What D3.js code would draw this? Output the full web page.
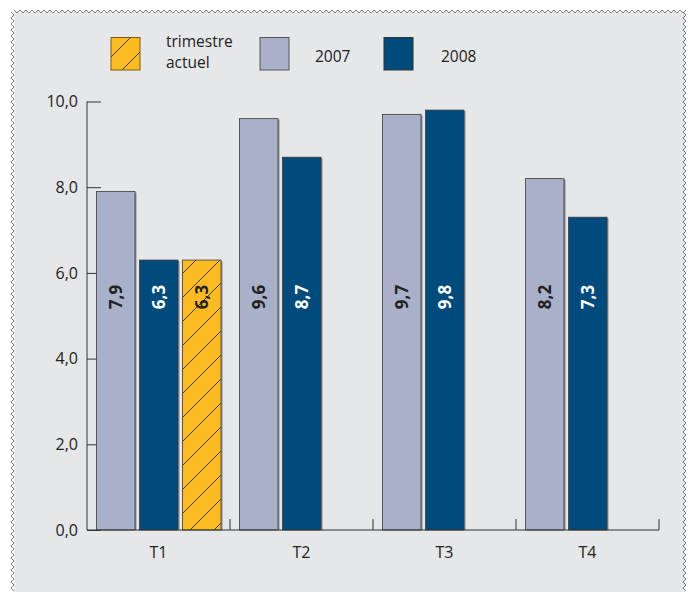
<!DOCTYPE html>
<html><head><meta charset="utf-8">
<script src="https://cdn.jsdelivr.net/npm/d3@7"></script>
<style>body{margin:0;background:#fff}svg{display:block}</style>
</head><body>
<svg id="c" width="696" height="592"></svg>
<script>
const categories = ["T1","T2","T3","T4"];
const values2007 = [7.9, 9.6, 9.7, 8.2];
const values2008 = [6.3, 8.7, 9.8, 7.3];
const currentQuarter = [6.3, null, null, null];
const yTicks = [0, 2, 4, 6, 8, 10];
const legendLabels = [["trimestre","actuel"], ["2007"], ["2008"]];

const svg = d3.select("#c");
const font = "'Open Sans', sans-serif";
const col07 = "#a9b0ca", col08 = "#004a7c", colY = "#fdbb23", bg = "#e6e7e9";

// panel
svg.append("rect").attr("x",14).attr("y",12).attr("width",671).attr("height",590).attr("fill",bg);
// zigzag borders
function zig(x0,y0,x1,y1,horizontal,dir){
  let p = "";
  const amp = 3*dir, per = 6;
  if(horizontal){ for(let x=x0,i=0;x<=x1;x+=per/2,i++){ p += (i?"L":"M")+x+","+(y0+(i%2?amp:0)); } }
  else { for(let y=y0,i=0;y<=y1;y+=per/2,i++){ p += (i?"L":"M")+(x0+(i%2?amp:0))+","+y; } }
  svg.append("path").attr("d",p).attr("fill","none").attr("stroke","#6e6e6e").attr("stroke-width",0.9);
}
zig(14,10,688,10,true,1);
zig(11,12,11,592,false,1);
zig(683,12,683,592,false,1);

const defs = svg.append("defs");
const pat = defs.append("pattern").attr("id","hatch").attr("patternUnits","userSpaceOnUse")
  .attr("width",24).attr("height",24);
pat.append("rect").attr("width",24).attr("height",24).attr("fill",colY);
pat.append("path").attr("d","M-2,26 L26,-2 M-6,6 L6,-6 M18,30 L30,18").attr("stroke","#3a3020").attr("stroke-width",0.9);

const y = d3.scaleLinear().domain([0,10]).range([530,101.5]);
const x0 = d3.scaleBand().domain(categories).range([87,659]).padding(0);
const x1 = d3.scaleBand().domain(["2007","2008","cur"]).range([9.5,134]).paddingInner(0.105).paddingOuter(0);

// axes
const yAxis = d3.axisRight(y).tickValues(yTicks).tickSize(14).tickFormat("");
const gy = svg.append("g").attr("transform","translate(87,0)").call(yAxis);
gy.select(".domain").remove();
gy.selectAll(".tick line").attr("stroke","#333").attr("stroke-width",1);
svg.append("line").attr("x1",87).attr("x2",87).attr("y1",101.5).attr("y2",530).attr("stroke","#333");
svg.append("g").selectAll("text").data(yTicks).join("text")
  .attr("x",78).attr("y",d=>y(d)).attr("dy","0.35em").attr("text-anchor","end")
  .attr("font-family",font).attr("font-size",16).attr("fill","#222")
  .text(d=>d3.format(".1f")(d).replace(".",","));

// bars
const data = [];
categories.forEach((c,i)=>{
  data.push({c, k:"2007", v:values2007[i], fill:col07, tc:"#222"});
  data.push({c, k:"2008", v:values2008[i], fill:col08, tc:"#fff"});
  if(currentQuarter[i]!=null) data.push({c, k:"cur", v:currentQuarter[i], fill:"url(#hatch)", tc:"#222"});
});
const bars = svg.append("g");
bars.selectAll("rect.sh").data(data).join("rect").attr("class","sh")
  .attr("x",d=>x0(d.c)+x1(d.k)+1.5).attr("y",d=>y(d.v)+1).attr("width",x1.bandwidth())
  .attr("height",d=>y(0)-y(d.v)-1).attr("fill","#8a8c92");
bars.selectAll("rect.b").data(data).join("rect").attr("class","b")
  .attr("x",d=>x0(d.c)+x1(d.k)).attr("y",d=>y(d.v)).attr("width",x1.bandwidth())
  .attr("height",d=>y(0)-y(d.v)).attr("fill",d=>d.fill).attr("stroke","#3c3c3c").attr("stroke-width",0.8);
bars.selectAll("text").data(data).join("text")
  .attr("transform",d=>`translate(${x0(d.c)+x1(d.k)+x1.bandwidth()/2},297) rotate(-90)`)
  .attr("text-anchor","middle").attr("dy","0.35em")
  .attr("font-family",font).attr("font-size",17).attr("font-weight","bold").attr("fill",d=>d.tc)
  .text(d=>d3.format(".1f")(d.v).replace(".",","));

// x axis
svg.append("line").attr("x1",87).attr("x2",659).attr("y1",530).attr("y2",530).attr("stroke","#333").attr("stroke-width",1.2);
svg.append("g").selectAll("line").data(categories).join("line")
  .attr("x1",d=>x0(d)+x0.bandwidth()).attr("x2",d=>x0(d)+x0.bandwidth())
  .attr("y1",530).attr("y2",519).attr("stroke","#333");
svg.append("g").selectAll("text").data(categories).join("text")
  .attr("x",d=>x0(d)+x0.bandwidth()/2).attr("y",552).attr("dy","0.35em").attr("text-anchor","middle")
  .attr("font-family",font).attr("font-size",16).attr("fill","#222").text(d=>d);

// legend
const leg = [
  {x:111, fill:"url(#hatch)", stroke:"#7a5a10", tx:166, lines:legendLabels[0]},
  {x:260, fill:col07, stroke:"#555", tx:315, lines:legendLabels[1]},
  {x:384, fill:col08, stroke:"#333", tx:441, lines:legendLabels[2]}
];
leg.forEach(l=>{
  svg.append("rect").attr("x",l.x).attr("y",37.5).attr("width",29).attr("height",32.5)
    .attr("fill",l.fill).attr("stroke",l.stroke).attr("stroke-width",1);
  const t = svg.append("text").attr("font-family",font).attr("font-size",15.5).attr("fill","#222");
  if(l.lines.length===2){
    t.append("tspan").attr("x",l.tx).attr("y",47).text(l.lines[0]);
    t.append("tspan").attr("x",l.tx).attr("y",68).text(l.lines[1]);
  } else {
    t.attr("x",l.tx).attr("y",57).attr("dy","0.35em").text(l.lines[0]);
  }
});
</script>
</body></html>
